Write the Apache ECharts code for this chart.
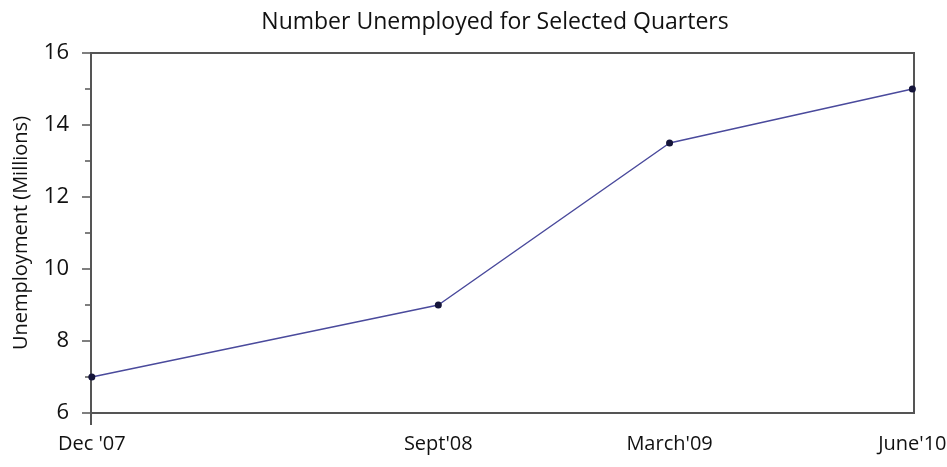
<!DOCTYPE html>
<html><head><meta charset="utf-8">
<script src="https://cdn.jsdelivr.net/npm/echarts@6/dist/echarts.min.js"></script>
<style>html,body{margin:0;padding:0;background:#fff}#c{width:947px;height:467px}</style>
</head><body><div id="c"></div>
<script>
const categories = ["Dec '07", "Sept'08", "March'09", "June'10"];
const xPositions = [0.01, 4.22, 7.03, 9.98];
const unemployed = [7.0, 9.0, 13.5, 15.0];
const yTicks = [6, 8, 10, 12, 14, 16];

const font = "'Open Sans', 'Noto Sans', sans-serif";
const chart = echarts.init(document.getElementById('c'));
chart.setOption({
  animation: false,
  title: {
    text: 'Number Unemployed for Selected Quarters',
    left: 490, top: 6, textAlign: 'center',
    textStyle: { fontFamily: font, fontWeight: 'normal', fontSize: 23, color: '#111' }
  },
  grid: { left: 91, right: 33, top: 53, bottom: 54, outerBoundsMode: 'none', containLabel: false,
    show: true, borderColor: '#555', borderWidth: 2, backgroundColor: '#fff' },
  xAxis: {
    type: 'value', min: 0, max: 10,
    axisLine: { show: true, lineStyle: { color: '#555', width: 2 } },
    splitLine: { show: false },
    axisTick: { show: true, customValues: [0], length: 12, lineStyle: { color: '#555', width: 2 } },
    axisLabel: {
      customValues: xPositions, hideOverlap: false,
      formatter: v => { const i = xPositions.indexOf(v); return i >= 0 ? categories[i] : ''; },
      margin: 21, fontSize: 20, color: '#111', fontFamily: font
    }
  },
  yAxis: {
    type: 'value', min: 6, max: 16, interval: 2,
    name: 'Unemployment (Millions)', nameLocation: 'middle', nameGap: 60,
    nameTextStyle: { fontSize: 20, color: '#111', fontFamily: font },
    axisLine: { show: true, lineStyle: { color: '#555', width: 2 } },
    axisTick: { show: true, length: 9, lineStyle: { color: '#555', width: 1.5 } },
    minorTick: { show: true, splitNumber: 2, length: 6, lineStyle: { color: '#555', width: 1.5 } },
    splitLine: { show: false },
    axisLabel: { fontSize: 22, color: '#111', margin: 22, fontFamily: font,
      formatter: v => yTicks.includes(v) ? String(v) : '' }
  },
  series: [{
    type: 'line',
    data: xPositions.map((x, i) => [x, unemployed[i]]),
    lineStyle: { color: '#4a4a9c', width: 1.5 },
    itemStyle: { color: '#15153a' },
    symbol: 'circle', symbolSize: 7, showSymbol: true
  }]
});
</script></body></html>
